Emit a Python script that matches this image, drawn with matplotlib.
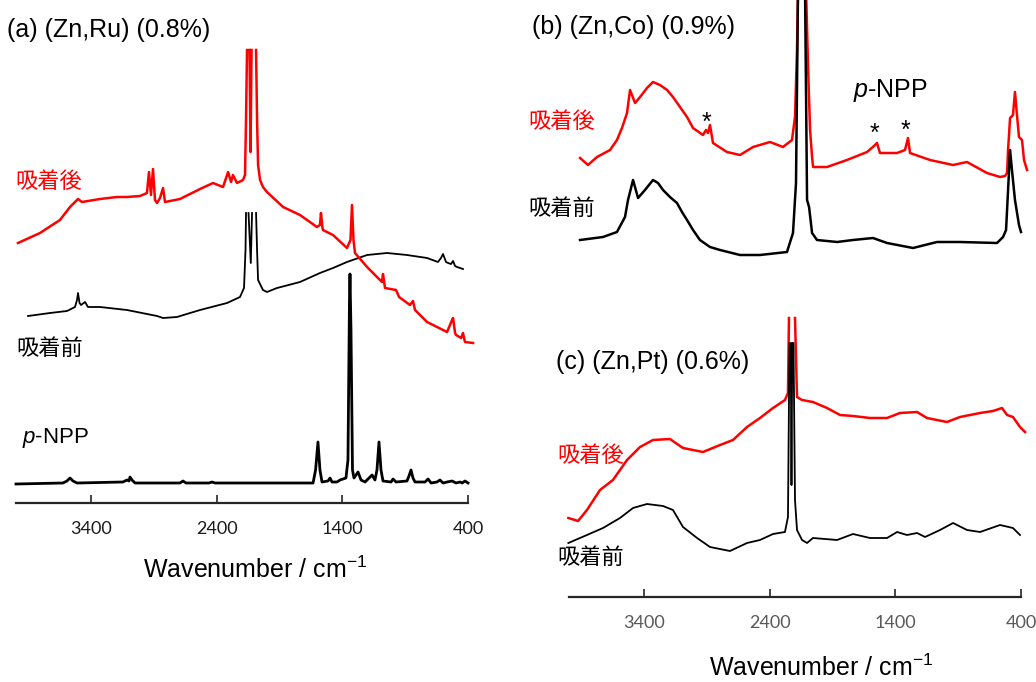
import numpy as np
import matplotlib.pyplot as plt

plt.rcParams['font.family'] = ['Liberation Sans', 'Noto Sans CJK JP', 'DejaVu Sans']
plt.rcParams['mathtext.fontset'] = 'custom'
plt.rcParams['mathtext.rm'] = 'Liberation Sans'
plt.rcParams['mathtext.it'] = 'Liberation Sans:italic'

nan = np.nan

# (a) (Zn,Ru) - after adsorption (red)
ru_after_wn = [3984, 3809, 3650, 3570, 3506, 3474, 3331, 3196, 3116, 3012, 2957, 2941, 2925,
               2909, 2893, 2877, 2853, 2829, 2813, 2694, 2534, 2431, 2351, 2311, 2287, 2272,
               2240, 2192, 2176, 2168, 2160, nan, 2140, 2132, 2124, nan, 2088, 2080, 2072,
               2056, 2033, 2001, 1873, 1738, 1603, 1579, 1571, 1559, 1555, 1475, 1364, 1336,
               1324, 1312, 1300, 1204, 1101, 1085, 1077, 1061, 973, 949, 862, 838, 822, 726,
               567, 527, 519, 503, 495, 455, 440, 424, 360]
ru_after_i = [2.60, 2.70, 2.83, 2.96, 3.04, 3.01, 3.04, 3.06, 3.06, 3.07, 3.10, 3.31, 3.08,
              3.34, 3.03, 3.00, 3.05, 3.15, 3.01, 3.04, 3.14, 3.20, 3.16, 3.31, 3.21, 3.28,
              3.20, 3.23, 3.28, 3.83, 4.53, nan, 4.53, 3.51, 4.53, nan, 4.53, 3.83, 3.38,
              3.23, 3.16, 3.11, 2.96, 2.88, 2.76, 2.78, 2.90, 2.75, 2.73, 2.68, 2.55, 2.63,
              2.98, 2.63, 2.50, 2.36, 2.23, 2.21, 2.29, 2.15, 2.13, 2.06, 1.98, 2.02, 1.93, 1.81,
              1.71, 1.83, 1.85, 1.70, 1.68, 1.65, 1.70, 1.61, 1.60]

# (a) (Zn,Ru) - before adsorption (black)
ru_before_wn = [3904, 3729, 3594, 3530, 3514, 3506, 3494, 3482, 3450, 3427, 3331, 3116, 2877,
                2829, 2718, 2534, 2319, 2216, 2184, 2172, 2168, nan, 2148, 2130, 2120, nan,
                2088, 2080, 2072, 2033, 2001, 1921, 1738, 1579, 1475, 1364, 1204, 1045, 886,
                726, 639, 615, 599, 575, 559, 535, 519, 503, 487, 440]
ru_before_i = [1.87, 1.90, 1.92, 1.96, 2.03, 2.10, 2.00, 1.98, 2.01, 1.96, 1.96, 1.93, 1.87,
               1.85, 1.86, 1.93, 2.00, 2.06, 2.15, 2.53, 2.90, nan, 2.90, 2.40, 2.90, nan,
               2.90, 2.53, 2.23, 2.13, 2.11, 2.15, 2.21, 2.30, 2.35, 2.41, 2.48, 2.50, 2.48,
               2.45, 2.41, 2.45, 2.49, 2.41, 2.40, 2.39, 2.42, 2.37, 2.36, 2.34]

# (a) p-NPP reference
npp_wn = [4000, 3626, 3594, 3570, 3546, 3514, 3148, 3116, 3100, 3092, 3076, 3052, 2694, 2670,
          2646, 2463, 2439, 2415, 1634, 1614, 1595, 1579, 1563, 1515, 1499, 1483, 1443, 1419,
          1372, 1356, 1344, 1340, 1332, 1320, 1308, 1276, 1252, 1220, 1164, 1141, 1125, 1109,
          1093, 1077, 1013, 997, 973, 886, 870, 854, 838, 822, 742, 718, 694, 647, 623, 599,
          567, 527, 495, 463, 447, 424, 400]
npp_i = [0.19, 0.20, 0.22, 0.25, 0.22, 0.20, 0.21, 0.23, 0.22, 0.26, 0.23, 0.20, 0.20, 0.22,
         0.20, 0.20, 0.21, 0.20, 0.20, 0.33, 0.61, 0.33, 0.21, 0.22, 0.25, 0.21, 0.21, 0.23,
         0.25, 0.43, 2.03, 2.29, 1.73, 0.33, 0.25, 0.31, 0.23, 0.21, 0.28, 0.23, 0.33, 0.61,
         0.33, 0.22, 0.21, 0.24, 0.21, 0.22, 0.27, 0.33, 0.25, 0.21, 0.21, 0.24, 0.20, 0.21,
         0.23, 0.20, 0.21, 0.22, 0.20, 0.21, 0.20, 0.22, 0.20]

# (b) (Zn,Co)
co_after_wn = [3912, 3849, 3777, 3673, 3618, 3578, 3538, 3514, 3474, 3434, 3379, 3331, 3275,
               3219, 3172, 3116, 3060, 3012, 2933, 2909, 2893, 2877, 2853, 2742, 2638, 2534,
               2399, 2296, 2224, 2200, 2184, 2176, 2112, 2096, 2080, 2064, 2056, 1945, 1786,
               1626, 1571, 1547, 1523, 1387, 1324, 1300, 1284, 1125, 941, 830, 671, 567, 527,
               511, 503, 487, 464, 448, 432, 416, 392, 376, 352]
co_after_i = [1.02, 0.95, 1.03, 1.10, 1.20, 1.32, 1.47, 1.70, 1.57, 1.63, 1.72, 1.78, 1.75,
              1.70, 1.63, 1.53, 1.43, 1.32, 1.25, 1.30, 1.27, 1.35, 1.17, 1.08, 1.05, 1.13,
              1.18, 1.13, 1.20, 1.43, 2.10, 2.70, 2.70, 1.93, 1.30, 1.03, 0.93, 0.93, 1.00,
              1.08, 1.14, 1.17, 1.07, 1.07, 1.10, 1.22, 1.07, 1.00, 0.95, 0.98, 0.87, 0.83,
              0.84, 0.87, 1.10, 1.42, 1.45, 1.68, 1.45, 1.23, 1.20, 1.00, 0.90]
co_before_wn = [3912, 3729, 3618, 3554, 3530, 3490, 3450, 3395, 3331, 3291, 3251, 3196, 3140,
                3100, 3060, 3012, 2957, 2877, 2797, 2638, 2479, 2264, 2216, 2192, 2176, 2120,
                2104, 2088, 2064, 2025, 1865, 1738, 1579, 1467, 1260, 1069, 886, 591, 543, 519,
                503, 487, 472, 448, 416, 400]
co_before_i = [0.20, 0.23, 0.28, 0.43, 0.60, 0.80, 0.62, 0.70, 0.80, 0.77, 0.70, 0.63, 0.57,
               0.48, 0.40, 0.30, 0.20, 0.13, 0.10, 0.05, 0.05, 0.08, 0.27, 0.77, 2.70, 2.70,
               0.60, 0.53, 0.27, 0.20, 0.18, 0.20, 0.22, 0.17, 0.12, 0.18, 0.18, 0.17, 0.23,
               0.30, 0.70, 1.10, 0.90, 0.60, 0.35, 0.28]

# (c) (Zn,Pt)
pt_after_wn = [4005, 3928, 3857, 3753, 3650, 3538, 3434, 3331, 3196, 3092, 2933, 2797, 2694,
               2582, 2479, 2375, 2280, 2256, 2248, nan, 2200, 2184, 2144, 2057, 1945, 1841,
               1738, 1603, 1467, 1364, 1228, 1149, 989, 886, 726, 623, 551, 511, 464, 408, 368]
pt_after_i = [0.79, 0.76, 0.87, 1.07, 1.17, 1.37, 1.50, 1.57, 1.58, 1.49, 1.45, 1.52, 1.57,
              1.70, 1.79, 1.89, 1.97, 2.04, 2.79, nan, 2.79, 2.00, 1.97, 1.95, 1.89, 1.82,
              1.81, 1.79, 1.79, 1.84, 1.85, 1.79, 1.75, 1.80, 1.84, 1.86, 1.89, 1.82, 1.80,
              1.70, 1.65]
pt_before_wn = [4005, 3857, 3729, 3594, 3490, 3379, 3251, 3172, 3092, 2980, 2877, 2718, 2582,
                2479, 2375, 2280, 2256, 2244, 2234, 2228, 2222, 2212, 2200, 2184, 2144, 2104,
                2057, 1865, 1738, 1603, 1467, 1387, 1308, 1228, 1164, 1045, 941, 830, 726,
                567, 464, 408]
pt_before_i = [0.54, 0.62, 0.69, 0.79, 0.89, 0.93, 0.91, 0.87, 0.70, 0.59, 0.50, 0.46, 0.54,
               0.57, 0.63, 0.65, 0.80, 2.54, 2.54, 1.12, 2.54, 2.54, 0.97, 0.67, 0.57, 0.54,
               0.59, 0.57, 0.63, 0.59, 0.59, 0.65, 0.62, 0.64, 0.60, 0.67, 0.74, 0.67, 0.65,
               0.72, 0.69, 0.62]

ticks = [3400, 2400, 1400, 400]
RED = '#ff0000'
W, H = 1036, 682


def rect(x0, y_top, x1, y_bot):
    return [x0 / W, 1 - y_bot / H, (x1 - x0) / W, (y_bot - y_top) / H]


def label(x, y, s, **kw):
    kw.setdefault('va', 'center')
    kw.setdefault('ha', 'left')
    fig.text(x / W, 1 - y / H, s, **kw)


def style_axis(ax, tick_color):
    ax.set_xlim(4000, 400)
    for side in ['left', 'right', 'top']:
        ax.spines[side].set_visible(False)
    ax.spines['bottom'].set_linewidth(1.6)
    ax.spines['bottom'].set_color('#262626')
    ax.set_yticks([])
    ax.set_xticks(ticks)
    ax.set_xticklabels([str(t) for t in ticks])
    ax.tick_params(axis='x', direction='in', length=6, width=1.2, color='#262626',
                   pad=13, labelsize=13, labelcolor=tick_color)
    for t in ax.get_xticklabels():
        t.set_fontfamily('Lato')
    ax.patch.set_alpha(0)


fig = plt.figure(figsize=(W / 100, H / 100), dpi=100)

# panel (a)
ax_a = fig.add_axes(rect(16, 50, 468, 503))
ax_a.set_ylim(0, 4.53)
style_axis(ax_a, '#1a1a1a')
ax_a.plot(npp_wn, npp_i, color='black', lw=2, clip_on=False)
ax_a.plot(ru_before_wn, ru_before_i, color='black', lw=1.3, clip_on=False)
ax_a.plot(ru_after_wn, ru_after_i, color=RED, lw=1.8, clip_on=False)

# panel (b), no axis drawn
ax_b = fig.add_axes(rect(569, 0, 1021, 260))
ax_b.set_xlim(4000, 400)
ax_b.set_ylim(0, 2.6)
ax_b.axis('off')
ax_b.plot(co_after_wn, co_after_i, color=RED, lw=1.8, clip_on=False)
ax_b.plot(co_before_wn, co_before_i, color='black', lw=1.8, clip_on=False)

# panel (c)
ax_c = fig.add_axes(rect(569, 318, 1021, 597))
ax_c.set_ylim(0, 2.79)
style_axis(ax_c, '#595959')
ax_c.plot(pt_after_wn, pt_after_i, color=RED, lw=1.8, clip_on=False)
ax_c.plot(pt_before_wn, pt_before_i, color='black', lw=1.3, clip_on=False)

# texts
label(7, 30, '(a) (Zn,Ru) (0.8%)', fontsize=18)
label(15, 182, '吸着後', fontsize=16, color=RED, family='Noto Sans CJK JP')
label(16, 348, '吸着前', fontsize=16, family='Noto Sans CJK JP')
label(22, 438, r'$\mathit{p}$-NPP', fontsize=16)
label(255, 570, r'Wavenumber / cm$^{\mathregular{-1}}$', fontsize=18, ha='center')

label(532, 27, '(b) (Zn,Co) (0.9%)', fontsize=18)
label(528, 122, '吸着後', fontsize=16, color=RED, family='Noto Sans CJK JP')
label(528, 208, '吸着前', fontsize=16, family='Noto Sans CJK JP')
label(853, 90, r'$\mathit{p}$-NPP', fontsize=18)
for sx, sy in [(706, 123), (874, 134), (905, 131)]:
    label(sx, sy, '*', fontsize=18, ha='center')

label(556, 362, '(c) (Zn,Pt) (0.6%)', fontsize=18)
label(557, 455, '吸着後', fontsize=16, color=RED, family='Noto Sans CJK JP')
label(557, 557, '吸着前', fontsize=16, family='Noto Sans CJK JP')
label(821, 668, r'Wavenumber / cm$^{\mathregular{-1}}$', fontsize=18, ha='center')

plt.savefig('out.png', dpi=100)
